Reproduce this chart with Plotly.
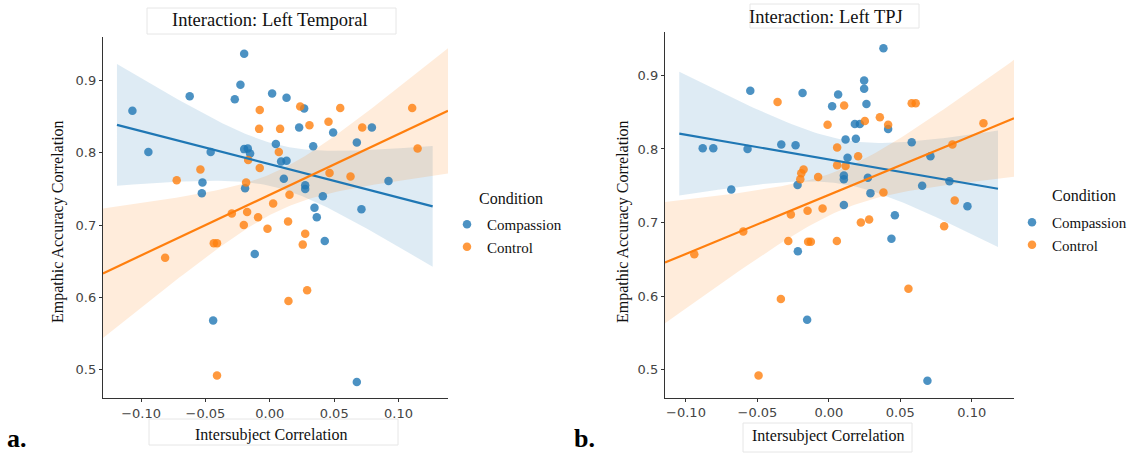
import numpy as np
import plotly.graph_objects as go

# ---------------- data ----------------
# Panel a: Left Temporal
a_comp_x = [-0.1067, -0.0943, -0.0622, -0.0459, -0.0523, -0.0528, -0.0199, -0.0228, -0.0272,
            -0.0199, -0.0171, -0.0153, -0.0192, 0.0018, 0.0130, 0.0267, 0.0228, 0.0047, 0.0088,
            0.0130, 0.0109, 0.0275, 0.0275, 0.0337, 0.0492, 0.0412, 0.0347, 0.0365, 0.0676,
            0.0793, 0.0712, 0.0922, -0.0117, 0.0427, -0.0440, 0.0676]
a_comp_y = [0.858, 0.801, 0.878, 0.801, 0.759, 0.744, 0.937, 0.894, 0.874,
            0.805, 0.806, 0.799, 0.751, 0.882, 0.876, 0.861, 0.835, 0.812, 0.788,
            0.789, 0.764, 0.755, 0.750, 0.809, 0.828, 0.740, 0.724, 0.711, 0.814,
            0.835, 0.722, 0.761, 0.660, 0.678, 0.568, 0.483]
a_ctrl_x = [-0.0723, -0.0539, -0.0078, -0.0083, 0.0080, 0.0236, 0.0308, 0.0456, 0.0547,
            0.0718, 0.1106, 0.1148, 0.0070, -0.0168, -0.0078, -0.0184, 0.0464, 0.0627,
            0.0153, 0.0026, -0.0295, -0.0176, -0.0091, -0.0202, 0.0142, -0.0018,
            0.0275, 0.0256, -0.0435, -0.0410, -0.0813, 0.0145, 0.0290, -0.0410]
a_ctrl_y = [0.762, 0.777, 0.859, 0.833, 0.833, 0.864, 0.838, 0.843, 0.862,
            0.835, 0.862, 0.806, 0.801, 0.790, 0.779, 0.759, 0.772, 0.767,
            0.742, 0.730, 0.716, 0.718, 0.711, 0.700, 0.705, 0.695,
            0.688, 0.673, 0.675, 0.675, 0.655, 0.595, 0.610, 0.492]

# Panel b: Left TPJ
b_comp_x = [-0.0883, -0.0809, -0.0569, -0.0550, -0.0683, -0.0333, -0.0233, -0.0219, -0.0184,
            0.0023, 0.0065, 0.0247, 0.0247, 0.0382, 0.0263, 0.0182, 0.0217, 0.0117, 0.0189,
            0.0415, 0.0131, 0.0105, 0.0105, 0.0273, 0.0105, 0.0291, 0.0462, 0.0580, 0.0711,
            0.0653, 0.0844, 0.0970, -0.0217, 0.0438, -0.0152, 0.0690]
b_comp_y = [0.801, 0.801, 0.800, 0.879, 0.745, 0.806, 0.805, 0.751, 0.876,
            0.858, 0.874, 0.893, 0.882, 0.937, 0.861, 0.834, 0.834, 0.813, 0.814,
            0.827, 0.788, 0.764, 0.759, 0.761, 0.724, 0.740, 0.710, 0.809, 0.790,
            0.750, 0.756, 0.722, 0.661, 0.678, 0.568, 0.485]
b_ctrl_x = [-0.0359, 0.0107, -0.0009, 0.0252, 0.0357, 0.0415, 0.0580, 0.0608, 0.1082,
            0.0865, 0.0058, 0.0205, 0.0058, 0.0117, -0.0177, -0.0193, -0.0200, -0.0075,
            0.0382, 0.0881, -0.0266, -0.0149, -0.0044, 0.0224, 0.0282, 0.0807,
            -0.0942, -0.0599, -0.0284, -0.0145, -0.0126, 0.0056, -0.0336, 0.0557, -0.0492]
b_ctrl_y = [0.864, 0.859, 0.833, 0.838, 0.843, 0.833, 0.862, 0.862, 0.835,
            0.806, 0.802, 0.790, 0.778, 0.777, 0.772, 0.767, 0.759, 0.762,
            0.741, 0.730, 0.711, 0.716, 0.719, 0.700, 0.704, 0.695,
            0.657, 0.688, 0.675, 0.674, 0.674, 0.675, 0.596, 0.610, 0.492]

conditions = ["Compassion", "Control"]
legend_title = "Condition"
titles = ["Interaction: Left Temporal", "Interaction: Left TPJ"]
x_title = "Intersubject Correlation"
y_title = "Empathic Accuracy Correlation"
x_ticks = [-0.10, -0.05, 0.00, 0.05, 0.10]
x_tick_text = ["\u22120.10", "\u22120.05", "0.00", "0.05", "0.10"]
y_ticks = [0.5, 0.6, 0.7, 0.8, 0.9]
panel_labels = ["a.", "b."]

# ---------------- styling ----------------
COLORS = {"Compassion": "#1f77b4", "Control": "#ff7f0e"}
BANDS = {"Compassion": "rgba(31,119,180,0.15)", "Control": "rgba(255,127,14,0.15)"}
SERIF = "Liberation Serif"
SANS = "DejaVu Sans"

# axis ranges and fit-line spans (layout, not data)
x_range = [(-0.1296, 0.1384), (-0.1147, 0.1296)]
y_range = [(0.461, 0.960), (0.462, 0.959)]
fit_span = [
    {"Compassion": (-0.1187, 0.1265), "Control": (-0.1296, 0.1384)},
    {"Compassion": (-0.1047, 0.1184), "Control": (-0.1147, 0.1296)},
]
x_domains = [(0.0907, 0.3947), (0.5859, 0.8934)]
y_domains = [(0.1253, 0.9187), (0.1260, 0.9297)]

T_CRIT = 2.035  # ~95% two-sided t critical value, df ~ 33


def fit_band(x, y, lo, hi):
    x = np.asarray(x, float)
    y = np.asarray(y, float)
    b1, b0 = np.polyfit(x, y, 1)
    n = len(x)
    resid = y - (b0 + b1 * x)
    s = np.sqrt(np.sum(resid ** 2) / (n - 2))
    sxx = np.sum((x - x.mean()) ** 2)
    grid = np.linspace(lo, hi, 100)
    yhat = b0 + b1 * grid
    se = s * np.sqrt(1.0 / n + (grid - x.mean()) ** 2 / sxx)
    return grid, yhat, yhat - T_CRIT * se, yhat + T_CRIT * se


panels = [
    {"Compassion": (a_comp_x, a_comp_y), "Control": (a_ctrl_x, a_ctrl_y)},
    {"Compassion": (b_comp_x, b_comp_y), "Control": (b_ctrl_x, b_ctrl_y)},
]

fig = go.Figure()

for p, pdata in enumerate(panels):
    xa = "x" if p == 0 else "x2"
    ya = "y" if p == 0 else "y2"
    leg = "legend" if p == 0 else "legend2"
    for cond in conditions:
        xs, ys = pdata[cond]
        lo, hi = fit_span[p][cond]
        g, yh, ylo, yhi = fit_band(xs, ys, lo, hi)
        fig.add_trace(go.Scatter(
            x=np.concatenate([g, g[::-1]]), y=np.concatenate([yhi, ylo[::-1]]),
            fill="toself", fillcolor=BANDS[cond], line=dict(width=0),
            mode="lines", hoverinfo="skip", showlegend=False, xaxis=xa, yaxis=ya))
    for cond in conditions:
        xs, ys = pdata[cond]
        fig.add_trace(go.Scatter(
            x=xs, y=ys, mode="markers", name=cond, legend=leg,
            marker=dict(color=COLORS[cond], size=8.5, opacity=0.8, line=dict(width=0)),
            xaxis=xa, yaxis=ya))
    for cond in conditions:
        xs, ys = pdata[cond]
        lo, hi = fit_span[p][cond]
        g, yh, _, _ = fit_band(xs, ys, lo, hi)
        fig.add_trace(go.Scatter(
            x=g, y=yh, mode="lines", line=dict(color=COLORS[cond], width=2.2),
            hoverinfo="skip", showlegend=False, xaxis=xa, yaxis=ya))

axis_common = dict(
    showgrid=False, zeroline=False, showline=True, linecolor="#333333", linewidth=1.3,
    ticks="outside", ticklen=3, tickcolor="#333333", tickwidth=1,
    tickfont=dict(family=SANS, size=13, color="#444444"),
)

legend_common = dict(
    xanchor="left", yanchor="top",
    font=dict(family=SERIF, size=15, color="#111"),
    bgcolor="rgba(0,0,0,0)", itemwidth=30, tracegroupgap=0,
)

fig.update_layout(
    width=1135, height=455, margin=dict(l=0, r=0, t=0, b=0),
    paper_bgcolor="white", plot_bgcolor="white",
    xaxis=dict(domain=x_domains[0], range=x_range[0], anchor="y",
               tickvals=x_ticks, ticktext=x_tick_text, **axis_common),
    yaxis=dict(domain=y_domains[0], range=y_range[0], anchor="x",
               tickvals=y_ticks, **axis_common),
    xaxis2=dict(domain=x_domains[1], range=x_range[1], anchor="y2",
                tickvals=x_ticks, ticktext=x_tick_text, **axis_common),
    yaxis2=dict(domain=y_domains[1], range=y_range[1], anchor="x2",
                tickvals=y_ticks, **axis_common),
    legend=dict(x=447 / 1135, y=1 - 208 / 455, **legend_common),
    legend2=dict(x=1012 / 1135, y=1 - 206 / 455, **legend_common),
    showlegend=True,
)

# faint boxes (collage cut-outs) around titles and x labels
boxes = [(147, 8, 396, 34), (750, 4, 919, 28), (149, 419, 398, 445), (743, 423, 912, 452)]
for (x0, y0, x1, y1) in boxes:
    fig.add_shape(type="rect", xref="paper", yref="paper",
                  x0=x0 / 1135, x1=x1 / 1135, y0=1 - y1 / 455, y1=1 - y0 / 455,
                  line=dict(color="#e6e6e6", width=1), fillcolor="white", layer="below")

ann = []
title_pos = [(270, 20), (826, 17)]
xlab_pos = [(271, 435), (828, 436)]
ylab_x = [58, 623]
leg_title_pos = [(477, 198), (1050, 195)]
for p in range(2):
    ann.append(dict(text=titles[p], x=title_pos[p][0] / 1135, y=1 - title_pos[p][1] / 455,
                    xref="paper", yref="paper", showarrow=False, xanchor="center", yanchor="middle",
                    font=dict(family=SERIF, size=18.5, color="#111")))
    ann.append(dict(text=x_title, x=xlab_pos[p][0] / 1135, y=1 - xlab_pos[p][1] / 455,
                    xref="paper", yref="paper", showarrow=False, xanchor="center", yanchor="middle",
                    font=dict(family=SERIF, size=16, color="#111")))
    ann.append(dict(text=y_title, x=ylab_x[p] / 1135, y=1 - 222 / 455, textangle=-90,
                    xref="paper", yref="paper", showarrow=False, xanchor="center", yanchor="middle",
                    font=dict(family=SERIF, size=16, color="#111")))
    ann.append(dict(text=legend_title, x=leg_title_pos[p][0] / 1135,
                    y=1 - leg_title_pos[p][1] / 455, xref="paper", yref="paper",
                    showarrow=False, xanchor="left", yanchor="middle",
                    font=dict(family=SERIF, size=16, color="#111")))
label_pos = [(17, 438), (584, 438)]
for p in range(2):
    ann.append(dict(text="<b>%s</b>" % panel_labels[p], x=label_pos[p][0] / 1135,
                    y=1 - label_pos[p][1] / 455, xref="paper", yref="paper", showarrow=False,
                    xanchor="center", yanchor="middle",
                    font=dict(family=SERIF, size=26, color="#000")))
fig.update_layout(annotations=ann)

fig.write_html("out.html")
